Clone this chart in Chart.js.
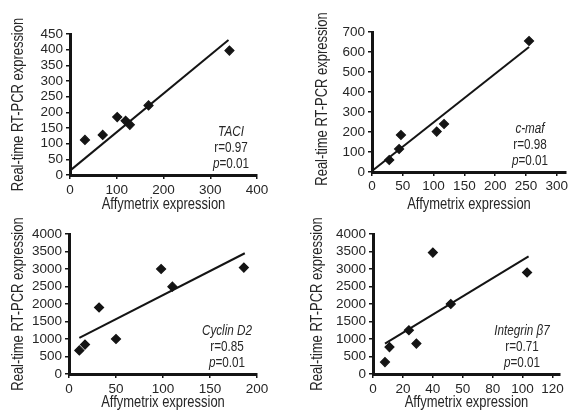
<!DOCTYPE html>
<html><head><meta charset="utf-8">
<script src="https://cdn.jsdelivr.net/npm/chart.js@4.4.1/dist/chart.umd.min.js"></script>
<style>
html,body{margin:0;padding:0;background:#fff;}
#wrap{position:relative;width:575px;height:414px;overflow:hidden;background:#fff;}
canvas{position:absolute;}
</style></head><body>
<div id="wrap">
<canvas id="c1" width="287" height="214" style="left:0px;top:0px"></canvas>
<canvas id="c2" width="288" height="214" style="left:287px;top:0px"></canvas>
<canvas id="c3" width="287" height="207" style="left:0px;top:207px"></canvas>
<canvas id="c4" width="288" height="207" style="left:287px;top:207px"></canvas>
</div>
<script>
// ---- data ----
const xTitle = 'Affymetrix expression';
const yTitle = 'Real-time RT-PCR expression';

const geneNames = ['TACI', 'c-maf', 'Cyclin D2', 'Integrin \u03B27'];
const rValues = ['0.97', '0.98', '0.85', '0.71'];
const pValues = ['0.01', '0.01', '0.01', '0.01'];

// TACI
const taciX = [32, 70, 101, 119, 128, 168, 341];
const taciY = [112, 128, 185, 173, 160, 222, 397];
const taciFitX = [0, 339];
const taciFitY = [14, 431];
const taciXTicks = [0, 100, 200, 300, 400];
const taciXLabels = ['0', '100', '200', '300', '400'];
const taciYTicks = [0, 50, 100, 150, 200, 250, 300, 350, 400, 450];

// c-maf
const cmafX = [28, 44, 47, 105, 117, 255];
const cmafY = [60, 115, 185, 202, 240, 655];
const cmafFitX = [0, 255];
const cmafFitY = [5, 625];
const cmafXTicks = [0, 50, 100, 150, 200, 250, 300];
const cmafXLabels = ['0', '50', '100', '150', '200', '250', '300'];
const cmafYTicks = [0, 100, 200, 300, 400, 500, 600, 700];

// Cyclin D2
const cycX = [11, 17, 32, 50, 98, 110, 186];
const cycY = [675, 840, 1900, 1000, 3000, 2495, 3040];
const cycFitX = [11, 187];
const cycFitY = [1030, 3450];
const cycXTicks = [0, 50, 100, 150, 200];
const cycXLabels = ['0', '50', '100', '150', '200'];
const cycYTicks = [0, 500, 1000, 1500, 2000, 2500, 3000, 3500, 4000];

// Integrin beta7
const itgX = [8, 11, 24, 29, 40, 52, 103];
const itgY = [340, 770, 1250, 870, 3470, 2000, 2900];
const itgFitX = [8, 104];
const itgFitY = [870, 3360];
const itgXTicks = [0, 20, 40, 60, 80, 100, 120];
const itgXLabels = ['0', '20', '40', '50', '80', '100', '120'];
const itgYTicks = [0, 500, 1000, 1500, 2000, 2500, 3000, 3500, 4000];

// ---- styling ----
const TICKF = "'Liberation Sans', Arial, sans-serif";
const INK = '#141414';
const TXT = '#262626';
const TITLE_CONDENSE = 0.81;
const ANNO_CONDENSE = 0.78;

// draws condensed axis titles and the gene / r / p annotation
const textPlugin = {
  id: 'txt',
  afterDraw(chart, args, opts) {
    const ctx = chart.ctx;
    const a = chart.chartArea;
    const ys = chart.scales.y;
    ctx.save();
    ctx.fillStyle = TXT;
    ctx.textBaseline = 'middle';
    ctx.textAlign = 'center';
    // axis titles
    ctx.font = "16px " + TICKF;
    const wx = ctx.measureText(xTitle).width * TITLE_CONDENSE;
    ctx.fillText(xTitle, (a.left + a.right) / 2, chart.height - opts.xtb - 9, wx);
    const wy = ctx.measureText(yTitle).width * TITLE_CONDENSE;
    ctx.save();
    ctx.translate(ys.left + 13, (a.top + a.bottom) / 2 + opts.ydy);
    ctx.rotate(-Math.PI / 2);
    ctx.fillText(yTitle, 0, 0, wy);
    ctx.restore();

    // annotation
    const cx = a.right + opts.dx;
    const reg = "15px " + TICKF;
    const ita = "italic 15px " + TICKF;
    ctx.textAlign = 'left';
    ctx.font = ita;
    let w = ctx.measureText(opts.gene).width * ANNO_CONDENSE;
    ctx.fillText(opts.gene, cx - w / 2, a.bottom - 43, w);
    ctx.font = reg;
    const rt = 'r=' + opts.r;
    w = ctx.measureText(rt).width * ANNO_CONDENSE;
    ctx.fillText(rt, cx - w / 2, a.bottom - 27, w);
    ctx.font = ita;
    const w1 = ctx.measureText('p').width * ANNO_CONDENSE;
    ctx.font = reg;
    const pt = '=' + opts.p;
    const w2 = ctx.measureText(pt).width * ANNO_CONDENSE;
    const x0 = cx - (w1 + w2) / 2;
    ctx.font = ita;
    ctx.fillText('p', x0, a.bottom - 11, w1);
    ctx.font = reg;
    ctx.fillText(pt, x0 + w1, a.bottom - 11, w2);
    ctx.restore();
  }
};

function toPts(xs, ys) { return xs.map((x, i) => ({ x: x, y: ys[i] })); }

function makeChart(id, p) {
  const axisCommon = {
    type: 'linear',
    border: { display: true, color: INK, width: 3 },
    grid: { display: true, drawOnChartArea: false, drawTicks: true, tickLength: 4, color: INK, lineWidth: 1.5 },
  };
  return new Chart(document.getElementById(id), {
    type: 'scatter',
    data: {
      datasets: [
        {
          data: toPts(p.x, p.y),
          pointStyle: 'rectRot',
          pointRadius: 4.5,
          backgroundColor: INK,
          borderColor: INK,
          borderWidth: 1.2,
          showLine: false
        },
        {
          data: toPts(p.fx, p.fy),
          showLine: true,
          pointRadius: 0,
          borderColor: INK,
          borderWidth: 2,
          fill: false
        }
      ]
    },
    options: {
      responsive: false,
      animation: false,
      devicePixelRatio: 1,
      layout: { padding: p.pad },
      plugins: {
        legend: { display: false },
        tooltip: { enabled: false },
        txt: { gene: p.gene, r: p.r, p: p.p, dx: p.dx, xtb: p.xtb, ydy: p.ydy }
      },
      scales: {
        x: Object.assign({}, axisCommon, {
          min: 0, max: p.xmax,
          afterBuildTicks: s => { s.ticks = p.xt.map(v => ({ value: v })); },
          afterFit: s => { s.height = p.xh; },
          ticks: {
            autoSkip: false, maxRotation: 0, padding: p.xtp,
            color: TXT, font: { family: TICKF, size: 13.5 },
            callback: (v, i) => p.xl[i]
          }
        }),
        y: Object.assign({}, axisCommon, {
          min: 0, max: p.ymax,
          afterBuildTicks: s => { s.ticks = p.yt.map(v => ({ value: v })); },
          afterFit: s => { s.width = p.yw; },
          ticks: {
            autoSkip: false, padding: 3,
            color: TXT, font: { family: TICKF, size: 13.5 },
            callback: v => String(v)
          }
        })
      }
    },
    plugins: [textPlugin]
  });
}

makeChart('c1', {
  x: taciX, y: taciY, fx: taciFitX, fy: taciFitY,
  xt: taciXTicks, xl: taciXLabels, yt: taciYTicks,
  xmax: 400, ymax: 450,
  pad: { left: 6, top: 34, right: 30, bottom: 0 }, yw: 64, xh: 39, xtp: 3, xtb: 0, ydy: 0,
  gene: geneNames[0], r: rValues[0], p: pValues[0], dx: -26
});
makeChart('c2', {
  x: cmafX, y: cmafY, fx: cmafFitX, fy: cmafFitY,
  xt: cmafXTicks, xl: cmafXLabels, yt: cmafYTicks,
  xmax: 315, ymax: 700,
  pad: { left: 23, top: 32, right: 9, bottom: 0 }, yw: 62, xh: 42, xtp: 2, xtb: 0, ydy: -3,
  gene: geneNames[1], r: rValues[1], p: pValues[1], dx: -36
});
makeChart('c3', {
  x: cycX, y: cycY, fx: cycFitX, fy: cycFitY,
  xt: cycXTicks, xl: cycXLabels, yt: cycYTicks,
  xmax: 200, ymax: 4000,
  pad: { left: 6, top: 27, right: 30, bottom: 0 }, yw: 63, xh: 40, xtp: 3, xtb: 2, ydy: 0,
  gene: geneNames[2], r: rValues[2], p: pValues[2], dx: -30
});
makeChart('c4', {
  x: itgX, y: itgY, fx: itgFitX, fy: itgFitY,
  xt: itgXTicks, xl: itgXLabels, yt: itgYTicks,
  xmax: 125, ymax: 4000,
  pad: { left: 18, top: 27, right: 15, bottom: 0 }, yw: 68, xh: 40, xtp: 3, xtb: 2, ydy: 0,
  gene: geneNames[3], r: rValues[3], p: pValues[3], dx: -38
});
</script>
</body></html>
